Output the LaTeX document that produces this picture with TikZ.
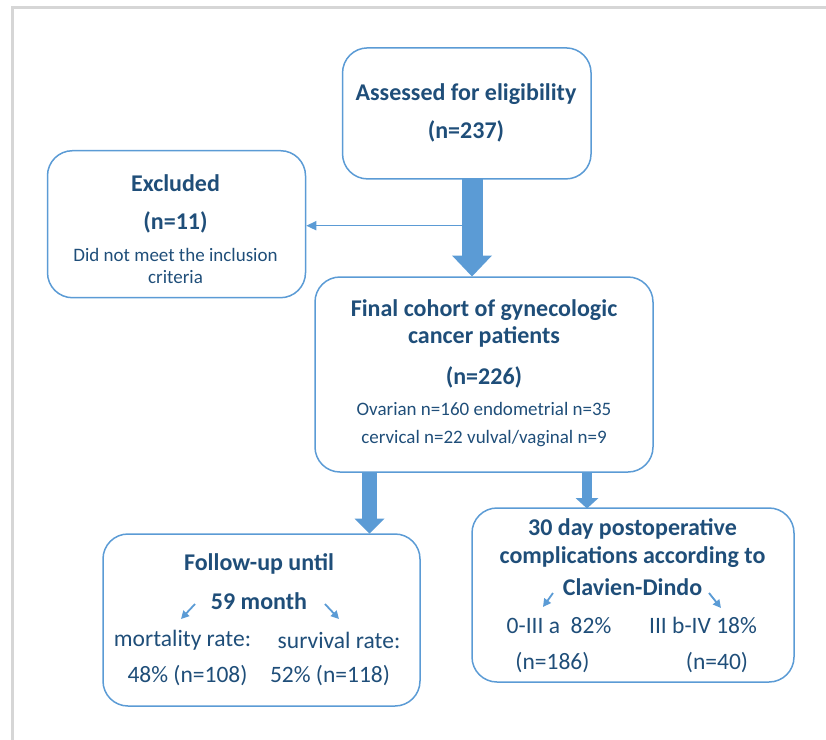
\documentclass[tikz,border=0pt]{standalone}
\usepackage{fontspec}
\setmainfont{Carlito}
\usetikzlibrary{
  arrows.meta,
}
\definecolor{boxblue}{HTML}{5B9BD5}
\definecolor{textblue}{HTML}{1F4E79}
\definecolor{framegray}{HTML}{D6D6D6}
\tikzset{
  flow box/.style = {
    draw=boxblue,
    line width=0.75pt,
    rounded corners=12.5pt,
    inner sep=0pt
  },
  flow text/.style = {
    inner sep=0pt,
    text=textblue
  },
  head text/.style = {
    flow text,
    font=\bfseries\fontsize{12}{14}\selectfont
  },
  body text/.style = {
    flow text,
    font=\fontsize{11.75}{14}\selectfont
  },
  note text/.style = {
    flow text,
    font=\fontsize{9.5}{11}\selectfont
  },
  fat arrow/.style n args = {3}{
    draw=boxblue,
    line width=#1,
    -{Triangle[length=#2, width=#3, line width=0pt]}
  },
  thin arrow/.style = {
    draw=boxblue,
    line width=0.75pt,
    -{Triangle[length=5pt, width=4.5pt]}
  },
  tiny arrow/.style = {
    draw=boxblue,
    line width=0.9pt,
    -{Triangle[length=4pt, width=4pt]}
  },
}

\begin{document}
\begin{tikzpicture}[x=0.5pt, y=-0.5pt]
  \useasboundingbox (0,0) rectangle (826,740);
  %% frame
  \draw[framegray, line width=1.5pt] (12.5,740) -- (12.5,7.5) -- (826,7.5);
  %% boxes
  \node[flow box, minimum width=124.25pt, minimum height=65.5pt] (assess) at (466.8,113.4) {};
  \node[flow box, minimum width=129pt, minimum height=73.5pt] (excl) at (176.5,224.2) {};
  \node[flow box, minimum width=169pt, minimum height=97.5pt] (cohort) at (484,374.5) {};
  \node[flow box, minimum width=158.5pt, minimum height=86pt] (follow) at (261.5,620) {};
  \node[flow box, minimum width=161pt, minimum height=87pt] (compl) at (633,595) {};
  %% texts
  \node[head text] (assess-1) at (466,94) {Assessed for eligibility};
  \node[head text] (assess-2) at (466,131.7) {(n=237)};
  \node[head text] (excl-1) at (175.5,183) {Excluded};
  \node[head text] (excl-2) at (175.5,222) {(n=11)};
  \node[note text] (excl-3) at (175.5,255) {Did not meet the inclusion};
  \node[note text] (excl-4) at (175.5,277) {criteria};
  \node[head text] (cohort-1) at (484,310) {Final cohort of gynecologic};
  \node[head text] (cohort-2) at (484,337) {cancer patients};
  \node[head text] (cohort-3) at (484,377.5) {(n=226)};
  \node[note text] (cohort-4) at (484,408.5) {Ovarian n=160 endometrial n=35};
  \node[note text] (cohort-5) at (484,438.5) {cervical n=22 vulval/vaginal n=9};
  \node[head text] (follow-1) at (259,563.5) {Follow-up until};
  \node[head text] (follow-2) at (259,601) {59 month};
  \node[body text] (mort) at (182.5,640) {mortality rate:};
  \node[body text] (surv) at (339,640) {survival rate:};
  \node[body text] (mort-n) at (187.5,675.5) {48\% (n=108)};
  \node[body text] (surv-n) at (330,675.5) {52\% (n=118)};
  \node[head text] (compl-1) at (632.5,528.5) {30 day postoperative};
  \node[head text] (compl-2) at (632.5,557.5) {complications according to};
  \node[head text] (compl-3) at (632.5,587.5) {Clavien-Dindo};
  \node[body text] (low) at (559,625.5) {0-III a\ \ 82\%};
  \node[body text] (high) at (703,625.5) {III b-IV 18\%};
  \node[body text] (low-n) at (552.5,662.5) {(n=186)};
  \node[body text] (high-n) at (717,662.5) {(n=40)};
  %% arrows
  \coordinate (split) at (472,225.7);
  \draw[thin arrow] (split) -- (split -| excl.east);
  \draw[fat arrow={10.5pt}{10.5pt}{20pt}] (472,179) -- (472,276.5);
  \draw[fat arrow={7.5pt}{7.5pt}{15pt}] (369.5,471.5) -- (369.5,533.5);
  \draw[fat arrow={5pt}{5.25pt}{11.5pt}] (587,471.5) -- (587,508.5);
  %% small arrows
  \coordinate (f-l) at (195,604);
  \coordinate (f-r) at (325,604);
  \coordinate (c-l) at (553,593);
  \coordinate (c-r) at (709,593);
  \draw[tiny arrow] (f-l) -- ++(-14,15);
  \draw[tiny arrow] (f-r) -- ++(14,15);
  \draw[tiny arrow] (c-l) -- ++(-10,14);
  \draw[tiny arrow] (c-r) -- ++(12,15);
\end{tikzpicture}
\end{document}
